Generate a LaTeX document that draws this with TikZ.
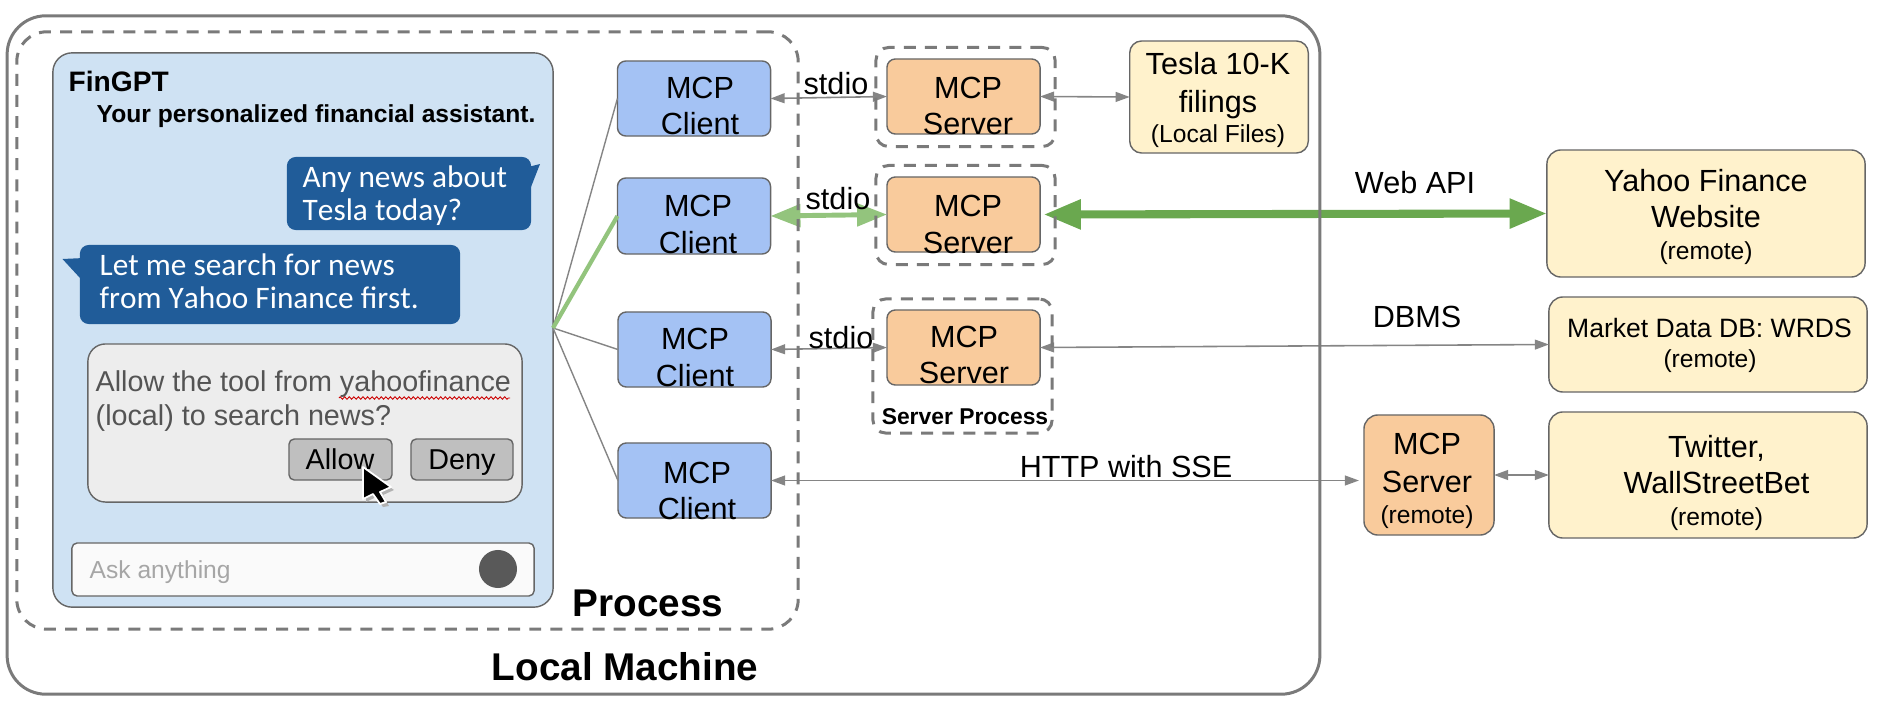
\documentclass[tikz,border=0pt]{standalone}
\usepackage{fontspec}
\setmainfont{Liberation Sans}
\newfontfamily\bubblefont[Kerning=Off]{Carlito}
\usetikzlibrary{arrows.meta,decorations.pathmorphing}

\definecolor{edgegray}{HTML}{666666}
\definecolor{linegray}{HTML}{858585}
\definecolor{framegray}{HTML}{7A7A7A}
\definecolor{clientblue}{HTML}{A4C2F4}
\definecolor{serverorange}{HTML}{F9CB9C}
\definecolor{sourceyellow}{HTML}{FFF2CC}
\definecolor{panelblue}{HTML}{CFE2F3}
\definecolor{bubbleblue}{HTML}{205C99}
\definecolor{lightgreen}{HTML}{93C47D}
\definecolor{darkgreen}{HTML}{6AA84F}

\tikzset{
  box/.style={draw=edgegray,line width=0.4pt,inner sep=0pt,outer sep=0pt,rounded corners=2.4pt},
  clientbox/.style={box,fill=clientblue,minimum width=1.53cm,minimum height=0.75cm},
  serverbox/.style={box,fill=serverorange,minimum width=1.53cm,minimum height=0.75cm},
  sourcebox/.style={box,fill=sourceyellow,rounded corners=4pt,minimum width=3.18cm},
  procbox/.style={draw=framegray,line width=0.85pt,dash pattern=on 3.4pt off 2.6pt,inner sep=0pt,outer sep=0pt,rounded corners=3.6pt,minimum width=1.79cm},
  bubble/.style={fill=bubbleblue,inner sep=0pt,rounded corners=2.5pt},
  button/.style={box,fill=black!25,rounded corners=1.5pt,minimum height=0.41cm},
  txt/.style={anchor=base,inner sep=0pt,font=\fontsize{8.7}{10}\selectfont},
  smalltxt/.style={txt,font=\fontsize{7}{8}\selectfont},
  boldtxt/.style={txt,font=\fontsize{11}{13}\bfseries\selectfont},
  bubbletxt/.style={anchor=base west,inner sep=0pt,text=white,font=\bubblefont\fontsize{8.9}{10}\selectfont},
  asktxt/.style={anchor=base west,inner sep=0pt,text=black!67,font=\fontsize{8.17}{10}\selectfont},
  link/.style={draw=linegray,line width=0.45pt,{Triangle[length=4pt,width=2.8pt]}-{Triangle[length=4pt,width=2.8pt]}},
  fanline/.style={draw=linegray,line width=0.4pt},
}

\begin{document}
\begin{tikzpicture}[x=0.01cm,y=-0.01cm]
\useasboundingbox (0,0) rectangle (1878,706);

% chat window
\node[box,fill=panelblue,rounded corners=5.5pt,minimum width=5cm,minimum height=5.54cm] (panel) at (303,330) {};
\node[txt,anchor=base west,font=\fontsize{8}{10}\bfseries\selectfont] (title) at (68,91) {FinGPT};
\node[txt,anchor=base west,font=\fontsize{7}{8}\bfseries\selectfont] (subtitle) at (96,122) {Your personalized financial assistant.};

\node[bubble,minimum width=2.44cm,minimum height=0.73cm] (ask) at (409,193.5) {};
\fill[bubbleblue] (528,167) -- (540,164) -- (531,187) -- cycle;
\node[bubbletxt] (asktop) at (302,187) {Any news about};
\node[bubbletxt] (askbot) at (302,220) {Tesla today?};

\node[bubble,minimum width=3.8cm,minimum height=0.79cm] (reply) at (270,284.5) {};
\fill[bubbleblue] (84,258) -- (62.5,259) -- (80,278) -- cycle;
\node[bubbletxt] (replytop) at (99,275) {Let me search for news};
\node[bubbletxt] (replybot) at (99,308) {from Yahoo Finance first.};

% permission dialog
\node[box,fill=black!7,rounded corners=5pt,minimum width=4.34cm,minimum height=1.58cm] (dialog) at (305,423) {};
\node[asktxt] (dialogtop) at (95,391) {Allow the tool from yahoofinance};
\node[asktxt] (dialogbot) at (95,425) {(local) to search news?};
\draw[red!80!black,line width=0.25pt,decorate,decoration={zigzag,amplitude=0.35pt,segment length=1.3pt}] (339,398) -- (510,398);
\node[button,minimum width=1.03cm] (allow) at (340.5,459.5) {};
\node[button,minimum width=1.02cm] (deny) at (462,459.5) {};
\node[txt,font=\fontsize{8.17}{10}\selectfont] (allowtxt) at (340,469) {Allow};
\node[txt,font=\fontsize{8.17}{10}\selectfont] (denytxt) at (462,469) {Deny};

% mouse pointer
\fill[black!30] (366,470) -- (366,502) -- (376,497) -- (383,507) -- (389,506) -- (383,495) -- (394,490) -- cycle;
\draw[white,fill=black,line width=0.5pt,line join=round] (363,467) -- (363,499) -- (373,494) -- (380,504) -- (386,502) -- (380,492) -- (391,487) -- cycle;

% input line
\node[box,fill=black!2,rounded corners=1.5pt,minimum width=4.62cm,minimum height=0.53cm] (input) at (303,569.5) {};
\node[txt,anchor=base west,text=black!35,font=\fontsize{7}{8}\selectfont] (inputtxt) at (89,578) {Ask anything};
\node[circle,fill=black!65,inner sep=0pt,minimum size=0.38cm] (send) at (498,569) {};

% clients
\node[clientbox] (c1) at (694,98.5) {};
\node[clientbox,minimum height=0.76cm] (c2) at (694,216) {};
\node[clientbox] (c3) at (694.5,349.5) {};
\node[clientbox] (c4) at (694.5,480.5) {};

\node[txt] (c1a) at (700,98) {MCP};
\node[txt] (c1b) at (700,134) {Client};
\node[txt] (c2a) at (698,216) {MCP};
\node[txt] (c2b) at (698,253) {Client};
\node[txt] (c3a) at (695,349) {MCP};
\node[txt] (c3b) at (695,386) {Client};
\node[txt] (c4a) at (697,483) {MCP};
\node[txt] (c4b) at (697,519) {Client};

% servers
\node[serverbox] (s1) at (963.5,96.5) {};
\node[serverbox] (s2) at (963.5,214.5) {};
\node[serverbox] (s3) at (963.5,347.5) {};
\node[serverbox,rounded corners=4pt,minimum width=1.3cm,minimum height=1.2cm] (s4) at (1429,475) {};

\node[txt] (s1a) at (968,98) {MCP};
\node[txt] (s1b) at (968,134) {Server};
\node[txt] (s2a) at (968,216) {MCP};
\node[txt] (s2b) at (968,253) {Server};
\node[txt] (s3a) at (964,347) {MCP};
\node[txt] (s3b) at (964,383) {Server};
\node[txt] (s4a) at (1427,454) {MCP};
\node[txt] (s4b) at (1427,492) {Server};
\node[smalltxt] (s4c) at (1427,523) {(remote)};

% data sources
\node[sourcebox,rounded corners=3.4pt,minimum width=1.785cm,minimum height=1.12cm] (tesla) at (1219,97) {};
\node[txt] (tesla1) at (1218,74) {Tesla 10-K};
\node[txt] (tesla2) at (1218,112) {filings};
\node[smalltxt] (tesla3) at (1218,143) {(Local Files)};

\node[sourcebox,minimum height=1.27cm] (yahoo) at (1706,213.5) {};
\node[txt] (yahoo1) at (1706,191) {Yahoo Finance};
\node[txt] (yahoo2) at (1706,227) {Website};
\node[smalltxt] (yahoo3) at (1706,259) {(remote)};

\node[sourcebox,minimum height=0.95cm] (market) at (1708,344.5) {};
\node[txt,font=\fontsize{7.55}{9}\selectfont] (market1) at (1709.5,337) {Market Data DB: WRDS};
\node[smalltxt] (market2) at (1710,367) {(remote)};

\node[sourcebox,minimum height=1.26cm] (twitter) at (1708,475) {};
\node[txt] (twitter1) at (1716.5,457) {Twitter,};
\node[txt] (twitter2) at (1716.5,493) {WallStreetBet};
\node[smalltxt] (twitter3) at (1716.5,525) {(remote)};

% connectors
\coordinate (fan) at (553,328);
\draw[fanline] (fan) -- (c1.west);
\draw[fanline] (fan) -- (c3.west);
\draw[fanline] (fan) -- (c4.west);
\draw[lightgreen,line width=1.2pt] (fan) -- (c2.west);

\draw[link] (c1.east) -- (s1.west);
\draw[link] (s1.east) -- (tesla.west);
\draw[lightgreen,line width=1.4pt,{Triangle[length=8.5pt,width=6.3pt]}-{Triangle[length=8.5pt,width=6.3pt]}] (c2.east) -- (s2.west);
\draw[darkgreen,line width=2.3pt,{Triangle[length=10.6pt,width=8pt]}-{Triangle[length=10.6pt,width=8pt]},shorten <=1pt] (s2.east) -- (yahoo.west);
\draw[link] (c3.east) -- (s3.west);
\draw[link] (s3.east) -- (market.west);
\draw[link,shorten >=0.05cm] (c4.east) -- (c4.east -| s4.west);
\draw[link] (s4.east) -- (twitter.west);

\node[txt] (stdio1) at (836,94) {stdio};
\node[txt] (stdio2) at (838,209) {stdio};
\node[txt] (stdio3) at (841,348) {stdio};
\node[txt] (webapi) at (1415,193) {Web API};
\node[txt] (dbms) at (1417,327) {DBMS};
\node[txt] (http) at (1126,477) {HTTP with SSE};

% process and machine frames
\node[procbox,minimum height=0.99cm] (d1) at (965.5,97) {};
\node[procbox,minimum height=0.99cm] (d2) at (965.5,215) {};
\node[procbox,minimum height=1.34cm] (d3) at (962.5,366) {};
\node[txt,font=\fontsize{6.5}{8}\bfseries\selectfont] (d3txt) at (965,424) {Server Process};

\node[procbox,rounded corners=8.5pt,minimum width=7.81cm,minimum height=5.97cm] (process) at (407.5,330.5) {};
\node[boldtxt] (processtxt) at (648,616) {Process};

\node[draw=framegray,line width=0.85pt,rounded corners=11pt,inner sep=0pt,outer sep=0pt,minimum width=13.12cm,minimum height=6.78cm] (machine) at (663.5,355) {};
\node[boldtxt] (machinetxt) at (625,680) {Local Machine};
\end{tikzpicture}
\end{document}
